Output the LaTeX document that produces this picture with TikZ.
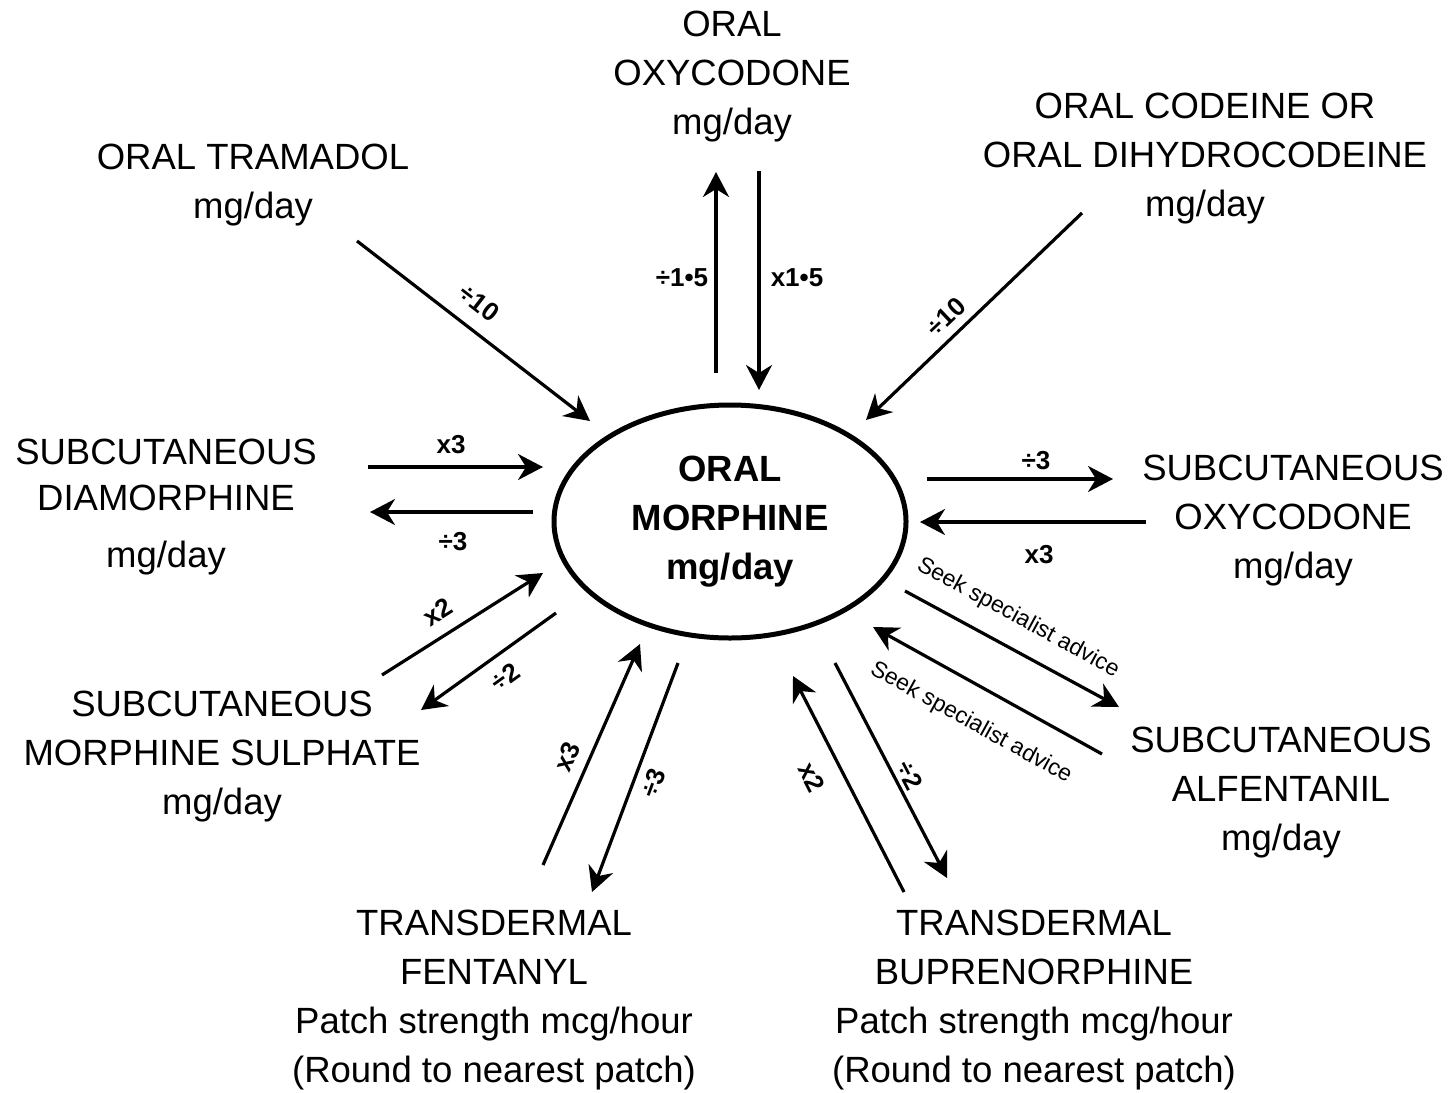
\documentclass[tikz,border=0pt]{standalone}
\usepackage{fontspec}
\setmainfont{Liberation Sans}
\usetikzlibrary{arrows.meta,shapes.geometric}
\begin{document}
\begin{tikzpicture}[x=0.5pt,y=-0.5pt,
  big/.style={align=center, inner sep=0pt, anchor=north, font=\fontsize{18.25}{24.5}\selectfont},
  lbl/.style={inner sep=0pt, font=\bfseries\fontsize{13}{15}\selectfont},
  seek/.style={inner sep=0pt, font=\fontsize{11.5}{13}\selectfont},
  arr/.style={line width=1.6pt, -{Stealth[length=12.5pt,width=13pt,inset=4pt]}},
]
\useasboundingbox (0,0) rectangle (1454,1092);

% central node
\node[draw, ellipse, line width=2.5pt, minimum width=176pt, minimum height=116.5pt,
      inner sep=0pt, align=center, font=\bfseries\fontsize{18.25}{24.5}\selectfont]
      (om) at (730,521.5) {ORAL\\MORPHINE\\mg/day};

% surrounding texts
\node[big] (tOxy) at (732,11) {ORAL\\OXYCODONE\\mg/day};
\node[big] (tTra) at (253,144) {ORAL TRAMADOL\\mg/day};
\node[big] (tCod) at (1205,93) {ORAL CODEINE OR\\ORAL DIHYDROCODEINE\\mg/day};
\node[big] (tDia) at (166,439) {SUBCUTANEOUS\\[-1.5pt]DIAMORPHINE\\[4pt]mg/day};
\node[big] (tSox) at (1293,455) {SUBCUTANEOUS\\OXYCODONE\\mg/day};
\node[big] (tSul) at (222,691) {SUBCUTANEOUS\\MORPHINE SULPHATE\\mg/day};
\node[big] (tAlf) at (1281,727) {SUBCUTANEOUS\\ALFENTANIL\\mg/day};
\node[big] (tFen) at (494,910) {TRANSDERMAL\\FENTANYL\\Patch strength mcg/hour\\(Round to nearest patch)};
\node[big] (tBup) at (1034,910) {TRANSDERMAL\\BUPRENORPHINE\\Patch strength mcg/hour\\(Round to nearest patch)};

% arrow end points
\coordinate (tra1) at (357,241);  \coordinate (tra2) at (590,421);
\coordinate (ox1a) at (716,373);  \coordinate (ox1b) at (716,172);
\coordinate (ox2a) at (759,171);  \coordinate (ox2b) at (759,390);
\coordinate (co1) at (1082,213);  \coordinate (co2) at (866,420);
\coordinate (di1a) at (368,467);  \coordinate (di1b) at (543,467);
\coordinate (di2a) at (533,512);  \coordinate (di2b) at (370,512);
\coordinate (so1a) at (927,479);  \coordinate (so1b) at (1113,479);
\coordinate (so2a) at (1146,522); \coordinate (so2b) at (920,522);
\coordinate (su1a) at (382,675);  \coordinate (su1b) at (543,573);
\coordinate (su2a) at (556,613);  \coordinate (su2b) at (421,710);
\coordinate (fe1a) at (543,865);  \coordinate (fe1b) at (640,644);
\coordinate (fe2a) at (678,663);  \coordinate (fe2b) at (592,892);
\coordinate (bu1a) at (904,892);  \coordinate (bu1b) at (793,676);
\coordinate (bu2a) at (835,663);  \coordinate (bu2b) at (947,878);
\coordinate (al1a) at (905,591);  \coordinate (al1b) at (1119,707);
\coordinate (al2a) at (1102,754); \coordinate (al2b) at (873,627);

% arrows
\draw[arr] (tra1) -- (tra2);
\draw[arr] (ox1a) -- (ox1b);
\draw[arr] (ox2a) -- (ox2b);
\draw[arr] (co1) -- (co2);
\draw[arr] (di1a) -- (di1b);
\draw[arr] (di2a) -- (di2b);
\draw[arr] (so1a) -- (so1b);
\draw[arr] (so2a) -- (so2b);
\draw[arr] (su1a) -- (su1b);
\draw[arr] (su2a) -- (su2b);
\draw[arr] (fe1a) -- (fe1b);
\draw[arr] (fe2a) -- (fe2b);
\draw[arr] (bu1a) -- (bu1b);
\draw[arr] (bu2a) -- (bu2b);
\draw[arr] (al1a) -- (al1b);
\draw[arr] (al2a) -- (al2b);

% labels
\node[lbl, rotate=-37.7] (ltra) at (479,303) {÷10};
\node[lbl] (lox1) at (682,278) {÷1•5};
\node[lbl] (lox2) at (797,278) {x1•5};
\node[lbl, rotate=43.6] (lco) at (946,317) {÷10};
\node[lbl] (ldi1) at (451,445) {x3};
\node[lbl] (ldi2) at (453,542) {÷3};
\node[lbl] (lso1) at (1036,461) {÷3};
\node[lbl] (lso2) at (1039,555) {x3};
\node[lbl, rotate=32.4] (lsu1) at (438,612) {x2};
\node[lbl, rotate=35.7] (lsu2) at (505,677) {÷2};
\node[lbl, rotate=66.3] (lfe1) at (567,757) {x3};
\node[lbl, rotate=69.4] (lfe2) at (653,783) {÷3};
\node[lbl, rotate=-62.8] (lbu1) at (812,777) {x2};
\node[lbl, rotate=-62.5] (lbu2) at (910,775) {÷2};
\node[seek, rotate=-28.5] (lal1) at (1018,618) {Seek specialist advice};
\node[seek, rotate=-29] (lal2) at (971,723) {Seek specialist advice};
\end{tikzpicture}
\end{document}
